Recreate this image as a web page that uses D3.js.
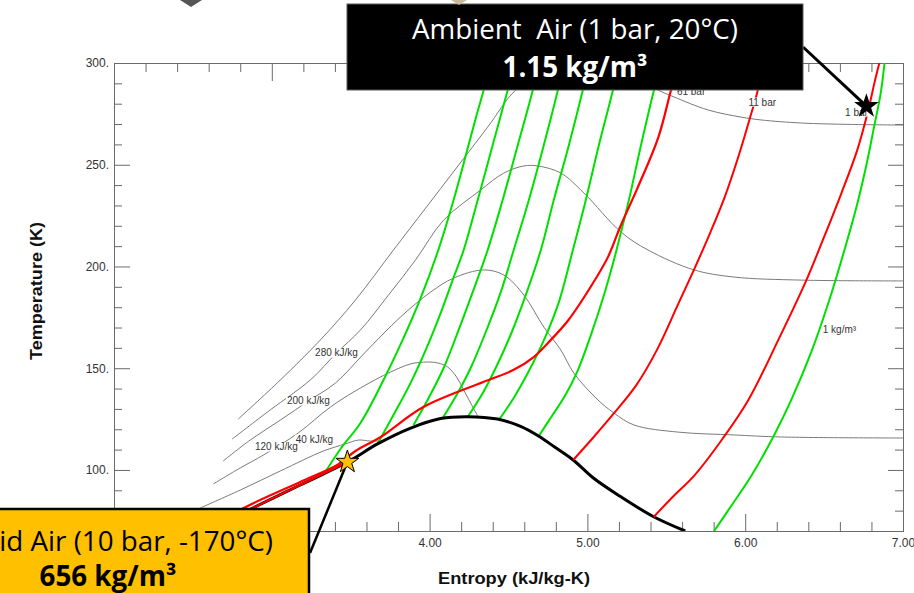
<!DOCTYPE html>
<html>
<head>
<meta charset="utf-8">
<script src="https://cdn.jsdelivr.net/npm/d3@7"></script>
<style>
  html, body { margin: 0; padding: 0; background: #fff; }
  svg { display: block; }
</style>
</head>
<body>
<div id="chart"></div>
<script>
// ticks
const sMajor = [2, 3, 4, 5, 6, 7];
const sLabelled = [4, 5, 6, 7]; // 2.00 and 3.00 sit under the orange callout
const sMinor = [2.2, 2.4, 2.6, 2.8, 3.2, 3.4, 3.6, 3.8, 4.2, 4.4, 4.6, 4.8, 5.2, 5.4, 5.6, 5.8, 6.2, 6.4, 6.6, 6.8];
const tMajor = [100, 150, 200, 250, 300];
const tMinor = [80, 90, 110, 120, 130, 140, 160, 170, 180, 190, 210, 220, 230, 240, 260, 270, 280, 290];

// saturation dome [entropy kJ/kg-K, temperature K]
const dome = [[2.59,70],[2.88,81.3],[3.18,92.6],[3.48,103.9],[3.67,112.8],[3.88,120.6],[4.07,125.3],[4.24,126.2],[4.43,125.0],[4.58,121.3],[4.69,116.7],[4.79,111.4],[4.91,104.9],[5.04,95.9],[5.21,86.9],[5.42,77.0],[5.62,70]];

// isobars (red)
const bar61 = [[2.59,71.5],[2.86,82.8],[3.18,94.1],[3.42,102.7],[3.53,109.3],[3.69,116.2],[3.96,130.9],[4.34,143.2],[4.53,149.1],[4.66,155.5],[4.75,162.4],[4.88,173.7],[5.02,189.9],[5.13,204.6],[5.21,219.9],[5.32,239.0],[5.45,263.6],[5.53,286.7],[5.58,300]];
const bar11Liquid = [[2.59,70],[2.88,81.3],[3.18,92.6],[3.48,103.9]];
const bar11Vapor = [[4.91,104.9],[5.04,116.2],[5.17,128.0],[5.31,141.7],[5.44,158.9],[5.57,180.6],[5.68,199.2],[5.78,216.9],[5.87,234.1],[5.96,254.8],[6.03,273.0],[6.08,286.7],[6.11,300]];
const bar1Vapor = [[5.42,76.9],[5.54,86.7],[5.68,97.5],[5.86,115.7],[6.02,134.4],[6.21,163.9],[6.38,191.9],[6.5,214.5],[6.61,236.1],[6.71,257.2],[6.78,276.9],[6.82,290.6],[6.85,300]];

// isochores (green)
const rho1 = [[3.327,97.5],[3.435,110.3],[3.562,123.1],[3.708,144.2],[3.829,163.9],[3.943,184.5],[4.051,207.1],[4.152,232.7],[4.235,256.2],[4.298,274.4],[4.343,286.7],[4.387,300]];
const rho2 = [[3.67,112.8],[3.771,127.0],[3.879,142.7],[3.975,158.9],[4.07,177.1],[4.146,193.3],[4.216,208.1],[4.305,232.7],[4.4,259.7],[4.495,286.7],[4.54,300]];
const rho3 = [[3.898,122.1],[3.994,135.4],[4.089,150.1],[4.184,168.8],[4.273,187.4],[4.368,208.1],[4.463,232.7],[4.559,259.7],[4.654,286.7],[4.692,300]];
const rho4 = [[4.083,125.5],[4.171,136.8],[4.26,150.1],[4.356,167.8],[4.451,187.4],[4.533,208.1],[4.629,232.7],[4.724,259.7],[4.813,286.7],[4.851,300]];
const rho5 = [[4.241,126.0],[4.337,137.8],[4.425,151.1],[4.521,167.8],[4.616,187.4],[4.705,208.1],[4.787,232.7],[4.883,259.7],[4.971,286.7],[5.01,300]];
const rho6 = [[4.438,124.5],[4.533,135.4],[4.629,148.6],[4.73,164.8],[4.819,182.5],[4.908,208.1],[4.99,232.7],[5.073,259.7],[5.162,286.7],[5.2,300]];
const rho7 = [[4.692,116.7],[4.775,126.5],[4.857,136.3],[4.94,149.1],[5.022,166.3],[5.105,186.0],[5.168,203.2],[5.213,216.9],[5.263,232.7],[5.34,259.7],[5.422,286.7],[5.467,300]];
const rhoOne = [[5.803,70],[5.911,82.3],[6.038,97.0],[6.184,117.2],[6.292,134.4],[6.419,158.0],[6.533,183.5],[6.629,208.1],[6.705,229.2],[6.768,249.9],[6.819,269.5],[6.857,284.3],[6.883,300]];

// isenthalps (gray)
const h360 = [[2.787,125.0],[3.054,144.2],[3.308,163.9],[3.53,183.5],[3.771,208.1],[3.975,228.7],[4.165,247.9],[4.368,268.5],[4.546,286.7],[4.737,295.6],[4.927,299.5],[5.117,298.5],[5.289,293.6],[5.448,286.7],[5.549,283.3],[5.765,276.9],[5.975,273.4],[6.102,272.0],[6.356,270.5],[6.673,269.8],[7.0,269.5]];
const h280 = [[2.749,115.2],[2.99,129.5],[3.244,144.2],[3.41,157.5],[3.562,168.8],[3.74,186.0],[3.911,203.2],[4.089,222.8],[4.324,237.6],[4.47,245.9],[4.597,249.4],[4.686,249.4],[4.832,245.9],[4.978,236.1],[5.213,216.9],[5.384,208.1],[5.676,198.3],[5.93,194.8],[6.356,193.3],[7.0,192.9]];
const h200 = [[2.692,104.4],[2.863,114.7],[3.054,124.5],[3.232,133.9],[3.403,142.7],[3.594,158.0],[3.816,175.2],[4.006,187.4],[4.152,194.3],[4.343,198.3],[4.47,195.8],[4.597,186.0],[4.724,170.2],[4.832,158.9],[4.914,147.6],[5.067,134.4],[5.168,128.0],[5.295,122.1],[5.575,118.6],[5.93,117.2],[6.229,116.2],[7.0,115.7]];
const h120 = [[2.629,93.1],[2.8,101.0],[2.946,107.3],[3.168,118.2],[3.371,130.9],[3.562,140.3],[3.752,148.1],[3.879,152.1],[3.962,153.0],[4.051,152.6],[4.114,150.6],[4.171,145.7],[4.216,139.3],[4.26,132.9],[4.305,126.5]];
const h40 = [[2.546,81.3],[2.8,90.1],[3.054,99.5],[3.327,109.3],[3.467,112.8],[3.549,114.7],[3.625,114.2],[3.72,114.5]];

// curve labels [text, s, T]
const lineLabels = [
  ['280 kJ/kg', 3.41, 157.5],
  ['200 kJ/kg', 3.232, 133.9],
  ['120 kJ/kg', 3.029, 111.3],
  ['40 kJ/kg', 3.27, 115.2],
  ['61 bar', 5.657, 286.2],
  ['11 bar', 6.108, 280.8],
  ['1 bar', 6.705, 275.9]
];
const densityLabel = ['1 kg/m\u00b3', 6.597, 168.8];

// marked states
const ambientState = [6.768, 278.8];
const liquidState = [3.479, 103.9];

const W = 914, H = 593;
const svg = d3.select('#chart').append('svg').attr('width', W).attr('height', H);

const x = d3.scaleLinear().domain([2, 7]).range([114, 903]);
const y = d3.scaleLinear().domain([70, 300]).range([531, 63]);

const AX = '#6a6a6a';
const tickFont = '"Liberation Sans", Arial, sans-serif';

function styleAxis(g) {
  g.selectAll('path, line').attr('stroke', AX).attr('stroke-width', 1);
  g.selectAll('text').attr('font-family', tickFont).attr('font-size', 12).attr('fill', '#333');
}

// bottom
svg.append('g').attr('transform', 'translate(0,531)')
  .call(d3.axisBottom(x).tickValues(sMinor).tickSize(-9).tickSizeOuter(0).tickFormat('')).call(styleAxis);
svg.append('g').attr('transform', 'translate(0,531)')
  .call(d3.axisBottom(x).tickValues(sMajor).tickSize(-17).tickSizeOuter(0).tickFormat('')).call(styleAxis);
svg.append('g').attr('transform', 'translate(0,531)')
  .call(d3.axisBottom(x).tickValues(sLabelled).tickSize(0).tickSizeOuter(0).tickPadding(7).tickFormat(d3.format('.2f'))).call(styleAxis);
// top
svg.append('g').attr('transform', 'translate(0,63)')
  .call(d3.axisTop(x).tickValues(sMinor).tickSize(-9).tickSizeOuter(0).tickFormat('')).call(styleAxis);
svg.append('g').attr('transform', 'translate(0,63)')
  .call(d3.axisTop(x).tickValues(sMajor).tickSize(-18).tickSizeOuter(0).tickFormat('')).call(styleAxis);
// left
svg.append('g').attr('transform', 'translate(114,0)')
  .call(d3.axisLeft(y).tickValues(tMinor).tickSize(-8).tickSizeOuter(0).tickFormat('')).call(styleAxis);
svg.append('g').attr('transform', 'translate(114,0)')
  .call(d3.axisLeft(y).tickValues(tMajor).tickSize(-16).tickSizeOuter(0).tickPadding(5).tickFormat(d => d + '.')).call(styleAxis);
// right
svg.append('g').attr('transform', 'translate(903,0)')
  .call(d3.axisRight(y).tickValues(tMinor).tickSize(-8).tickSizeOuter(0).tickFormat('')).call(styleAxis);
svg.append('g').attr('transform', 'translate(903,0)')
  .call(d3.axisRight(y).tickValues(tMajor).tickSize(-15).tickSizeOuter(0).tickFormat('')).call(styleAxis);

// axis titles
svg.append('text')
  .attr('transform', 'translate(42,291) rotate(-90)')
  .attr('text-anchor', 'middle')
  .attr('textLength', 138).attr('lengthAdjust', 'spacingAndGlyphs')
  .attr('font-family', tickFont).attr('font-weight', 'bold').attr('font-size', 16).attr('fill', '#111')
  .text('Temperature (K)');
svg.append('text')
  .attr('x', 514).attr('y', 584)
  .attr('text-anchor', 'middle')
  .attr('textLength', 152).attr('lengthAdjust', 'spacingAndGlyphs')
  .attr('font-family', tickFont).attr('font-weight', 'bold').attr('font-size', 16).attr('fill', '#111')
  .text('Entropy (kJ/kg-K)');

// plot area clip
svg.append('clipPath').attr('id', 'plot-clip')
  .append('rect').attr('x', 114).attr('y', 63).attr('width', 789).attr('height', 468);
const plot = svg.append('g').attr('clip-path', 'url(#plot-clip)');

const line = d3.line()
  .x(d => x(d[0]))
  .y(d => y(d[1]))
  .curve(d3.curveCatmullRom.alpha(0.5));

function draw(data, color, width) {
  plot.append('path')
    .attr('d', line(data))
    .attr('fill', 'none')
    .attr('stroke', color)
    .attr('stroke-width', width)
    .attr('stroke-linejoin', 'round');
}

[h360, h280, h200, h120, h40].forEach(d => draw(d, '#7a7a7a', 1));
[rho1, rho2, rho3, rho4, rho5, rho6, rho7, rhoOne].forEach(d => draw(d, '#00e000', 2));
draw(dome, '#000', 3);
[bar11Liquid, bar11Vapor, bar1Vapor].forEach(d => draw(d, '#ff0000', 2));
draw(bar61, '#ff0000', 2.2);

// curve labels with white backing
lineLabels.forEach(([txt, s, t]) => {
  const g = plot.append('g');
  const el = g.append('text')
    .attr('x', x(s)).attr('y', y(t))
    .attr('dy', '0.35em')
    .attr('text-anchor', 'middle')
    .attr('font-family', tickFont).attr('font-size', 10).attr('fill', '#333')
    .text(txt);
  const b = el.node().getBBox();
  g.insert('rect', 'text')
    .attr('x', b.x - 1).attr('y', b.y + 1).attr('width', b.width + 2).attr('height', b.height - 2)
    .attr('fill', '#fff');
});
plot.append('text')
  .attr('x', x(densityLabel[1])).attr('y', y(densityLabel[2]))
  .attr('dy', '0.35em')
  .attr('text-anchor', 'middle')
  .attr('font-family', tickFont).attr('font-size', 10).attr('fill', '#333')
  .text(densityLabel[0]);

// callouts
const calloutFont = '"Open Sans", Lato, sans-serif';

// leader lines
svg.append('line')
  .attr('x1', 803).attr('y1', 47).attr('x2', x(ambientState[0])).attr('y2', y(ambientState[1]))
  .attr('stroke', '#000').attr('stroke-width', 3);
svg.append('line')
  .attr('x1', 310).attr('y1', 553).attr('x2', x(liquidState[0])).attr('y2', y(liquidState[1]))
  .attr('stroke', '#000').attr('stroke-width', 2.5);

// stars
svg.append('path')
  .attr('transform', `translate(${x(ambientState[0])},${y(ambientState[1])})`)
  .attr('d', d3.symbol(d3.symbolStar, 13 * 13 / 0.8908)())
  .attr('fill', '#000');
svg.append('path')
  .attr('transform', `translate(${x(liquidState[0])},${y(liquidState[1])})`)
  .attr('d', d3.symbol(d3.symbolStar, 12 * 12 / 0.8908)())
  .attr('fill', '#ffc000').attr('stroke', '#000').attr('stroke-width', 1);

// black callout
svg.append('rect')
  .attr('x', 347).attr('y', 4).attr('width', 456).attr('height', 86)
  .attr('fill', '#000').attr('stroke', '#5a5a5a').attr('stroke-width', 1);
const amb1 = svg.append('text')
  .attr('x', 575).attr('y', 39).attr('text-anchor', 'middle')
  .style('white-space', 'pre')
  .attr('font-family', calloutFont).attr('font-size', 30).attr('fill', '#fff')
  .text('Ambient  Air (1 bar, 20\u00b0C)');
const fit = 30 * 326 / amb1.node().getComputedTextLength();
amb1.attr('font-size', fit);
svg.append('text')
  .attr('x', 575).attr('y', 77).attr('text-anchor', 'middle')
  .attr('font-family', calloutFont).attr('font-weight', 'bold').attr('font-size', fit).attr('fill', '#fff')
  .text('1.15 kg/m\u00b3');

// orange callout
svg.append('rect')
  .attr('x', -3).attr('y', 509).attr('width', 312).attr('height', 100)
  .attr('fill', '#ffc000').attr('stroke', '#000').attr('stroke-width', 2.5);
svg.append('text')
  .attr('x', 273).attr('y', 551).attr('text-anchor', 'end')
  .attr('font-family', calloutFont).attr('font-size', fit).attr('fill', '#000')
  .text('Liquid Air (10 bar, -170\u00b0C)');
svg.append('text')
  .attr('x', 108).attr('y', 586).attr('text-anchor', 'middle')
  .attr('font-family', calloutFont).attr('font-weight', 'bold').attr('font-size', fit).attr('fill', '#000')
  .text('656 kg/m\u00b3');

// bits of neighbouring slide shapes at the top edge
svg.append('polygon').attr('points', '180,0 191,7 202,0').attr('fill', '#555');
svg.append('polygon').attr('points', '451,0 459,5 467,0').attr('fill', '#c8b89c');
</script>
</body>
</html>
